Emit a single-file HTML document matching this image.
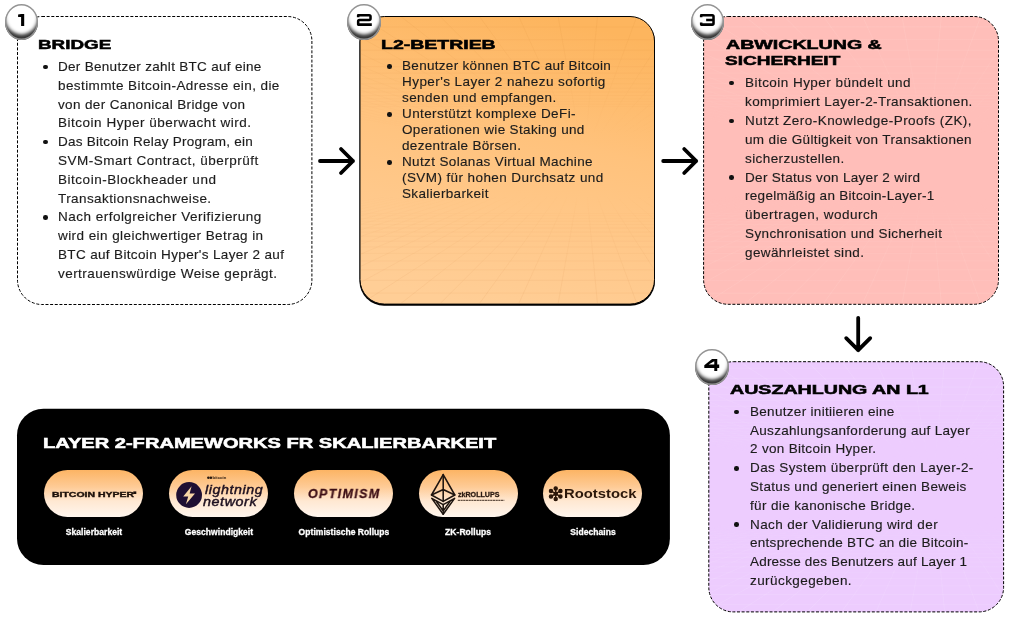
<!DOCTYPE html>
<html><head><meta charset="utf-8"><title>Bitcoin Hyper Layer 2</title>
<style>
html,body{margin:0;padding:0;background:#fff;}
body{width:1024px;height:619px;position:relative;overflow:hidden;font-family:"Liberation Sans",sans-serif;}
.abs{position:absolute;}
.t{will-change:transform;position:absolute;white-space:nowrap;font-size:13.5px;line-height:20px;height:20px;color:#1c1c1c;-webkit-text-stroke:0.15px #1c1c1c;}
.bl{position:absolute;width:4.6px;height:4.6px;border-radius:50%;background:#111;display:block;}
.h{will-change:transform;-webkit-text-stroke-width:0.55px;position:absolute;white-space:nowrap;font-weight:bold;line-height:20px;height:20px;color:#000;transform-origin:0 50%;}
.badge{position:absolute;width:33.2px;height:35.8px;border-radius:50%;background:#fff;box-sizing:border-box;
 box-shadow:inset 0 0 0.6px 1.4px #949494, inset 0 -5.6px 3.6px 0 rgba(0,0,0,.8);}
svg{position:absolute;left:0;top:0;overflow:visible;}
.pill{position:absolute;width:99px;height:47.4px;border-radius:24px;top:470.1px;background:linear-gradient(to bottom,#fcb464 0%,#fecb96 36%,#ffe8d2 66%,#fff6ee 100%);overflow:hidden;}
.lg{will-change:transform;position:absolute;white-space:nowrap;line-height:20px;height:20px;transform-origin:0 50%;}
.lab{will-change:transform;-webkit-text-stroke:0.3px #fff;position:absolute;top:526px;width:140px;text-align:center;font-size:8.5px;letter-spacing:0.05px;line-height:12px;font-weight:bold;color:#fff;white-space:nowrap;}
</style></head><body>

<svg width="1024" height="619" viewBox="0 0 1024 619">
<defs>
<linearGradient id="gO" x1="0.62" y1="0" x2="0.38" y2="1"><stop offset="0" stop-color="#fdb55e"/><stop offset="0.4" stop-color="#ffc27c"/><stop offset="0.75" stop-color="#ffc98c"/><stop offset="1" stop-color="#ffce96"/></linearGradient>
<linearGradient id="fade" x1="0" y1="0" x2="0" y2="1"><stop offset="0" stop-color="#fff" stop-opacity="1"/><stop offset="0.3" stop-color="#fff" stop-opacity="0.35"/><stop offset="0.42" stop-color="#fff" stop-opacity="0"/><stop offset="0.62" stop-color="#fff" stop-opacity="0"/><stop offset="0.75" stop-color="#fff" stop-opacity="0.5"/><stop offset="1" stop-color="#fff" stop-opacity="1"/></linearGradient>
<clipPath id="c2"><rect x="361" y="17" width="293" height="286" rx="24"/></clipPath><mask id="m2" maskUnits="userSpaceOnUse" x="361" y="17" width="293" height="286"><rect x="361" y="17" width="293" height="286" fill="url(#fade)"/></mask><clipPath id="c3"><rect x="704.5" y="17" width="293.5" height="286" rx="24"/></clipPath><mask id="m3" maskUnits="userSpaceOnUse" x="704.5" y="17" width="293.5" height="286"><rect x="704.5" y="17" width="293.5" height="286" fill="url(#fade)"/></mask><clipPath id="c4"><rect x="709.5" y="362" width="293.5" height="249" rx="24"/></clipPath><mask id="m4" maskUnits="userSpaceOnUse" x="709.5" y="362" width="293.5" height="249"><rect x="709.5" y="362" width="293.5" height="249" fill="url(#fade)"/></mask>
</defs>
<rect x="359.5" y="17.6" width="295.5" height="288.1" rx="24.5" fill="#000"/>
<rect x="360" y="16.5" width="294.5" height="287.6" rx="24.5" fill="url(#gO)"/>
<rect x="703.6" y="16.5" width="294.9" height="287.8" rx="24.5" fill="#ffbeb9"/>
<rect x="708.8" y="361.7" width="294.8" height="250.2" rx="24.5" fill="#edccfe"/>
<g clip-path="url(#c2)"><g mask="url(#m2)" fill="none" stroke-width="0.8"><path d="M361.0 26.9H654.0M361.0 39.7H654.0M361.0 50.2H654.0M361.0 59.1H654.0M361.0 66.6H654.0M361.0 73.1H654.0M361.0 78.8H654.0M361.0 83.7H654.0M361.0 88.1H654.0M361.0 92.0H654.0M361.0 95.5H654.0M361.0 98.7H654.0M361.0 101.6H654.0M361.0 104.2H654.0M361.0 106.6H654.0M583.7 160.0L-1725.9 -269.0M583.7 160.0L-1608.3 -269.0M583.7 160.0L-1490.8 -269.0M583.7 160.0L-1373.3 -269.0M583.7 160.0L-1255.7 -269.0M583.7 160.0L-1138.2 -269.0M583.7 160.0L-1020.7 -269.0M583.7 160.0L-903.1 -269.0M583.7 160.0L-785.6 -269.0M583.7 160.0L-668.1 -269.0M583.7 160.0L-550.5 -269.0M583.7 160.0L-433.0 -269.0M583.7 160.0L-315.5 -269.0M583.7 160.0L-197.9 -269.0M583.7 160.0L-80.4 -269.0M583.7 160.0L37.1 -269.0M583.7 160.0L154.7 -269.0M583.7 160.0L272.2 -269.0M583.7 160.0L389.7 -269.0M583.7 160.0L507.3 -269.0M583.7 160.0L624.8 -269.0M583.7 160.0L742.4 -269.0M583.7 160.0L859.9 -269.0M583.7 160.0L977.4 -269.0M583.7 160.0L1095.0 -269.0M583.7 160.0L1212.5 -269.0M583.7 160.0L1330.0 -269.0M583.7 160.0L1447.6 -269.0M583.7 160.0L1565.1 -269.0M583.7 160.0L1682.6 -269.0" stroke="rgba(170,90,10,.07)"/><path d="M361.0 293.1H654.0M361.0 280.3H654.0M361.0 269.8H654.0M361.0 260.9H654.0M361.0 253.4H654.0M361.0 246.9H654.0M361.0 241.2H654.0M361.0 236.3H654.0M361.0 231.9H654.0M361.0 228.0H654.0M361.0 224.5H654.0M361.0 221.3H654.0M361.0 218.4H654.0M361.0 215.8H654.0M361.0 213.4H654.0M583.7 160.0L-1725.9 589.0M583.7 160.0L-1608.3 589.0M583.7 160.0L-1490.8 589.0M583.7 160.0L-1373.3 589.0M583.7 160.0L-1255.7 589.0M583.7 160.0L-1138.2 589.0M583.7 160.0L-1020.7 589.0M583.7 160.0L-903.1 589.0M583.7 160.0L-785.6 589.0M583.7 160.0L-668.1 589.0M583.7 160.0L-550.5 589.0M583.7 160.0L-433.0 589.0M583.7 160.0L-315.5 589.0M583.7 160.0L-197.9 589.0M583.7 160.0L-80.4 589.0M583.7 160.0L37.1 589.0M583.7 160.0L154.7 589.0M583.7 160.0L272.2 589.0M583.7 160.0L389.7 589.0M583.7 160.0L507.3 589.0M583.7 160.0L624.8 589.0M583.7 160.0L742.4 589.0M583.7 160.0L859.9 589.0M583.7 160.0L977.4 589.0M583.7 160.0L1095.0 589.0M583.7 160.0L1212.5 589.0M583.7 160.0L1330.0 589.0M583.7 160.0L1447.6 589.0M583.7 160.0L1565.1 589.0M583.7 160.0L1682.6 589.0" stroke="rgba(185,105,25,.09)"/></g></g><g clip-path="url(#c3)"><g mask="url(#m3)" fill="none" stroke-width="0.8"><path d="M704.5 26.9H998.0M704.5 39.7H998.0M704.5 50.2H998.0M704.5 59.1H998.0M704.5 66.6H998.0M704.5 73.1H998.0M704.5 78.8H998.0M704.5 83.7H998.0M704.5 88.1H998.0M704.5 92.0H998.0M704.5 95.5H998.0M704.5 98.7H998.0M704.5 101.6H998.0M704.5 104.2H998.0M704.5 106.6H998.0M927.6 160.0L-1382.0 -269.0M927.6 160.0L-1264.5 -269.0M927.6 160.0L-1146.9 -269.0M927.6 160.0L-1029.4 -269.0M927.6 160.0L-911.9 -269.0M927.6 160.0L-794.3 -269.0M927.6 160.0L-676.8 -269.0M927.6 160.0L-559.2 -269.0M927.6 160.0L-441.7 -269.0M927.6 160.0L-324.2 -269.0M927.6 160.0L-206.6 -269.0M927.6 160.0L-89.1 -269.0M927.6 160.0L28.4 -269.0M927.6 160.0L146.0 -269.0M927.6 160.0L263.5 -269.0M927.6 160.0L381.0 -269.0M927.6 160.0L498.6 -269.0M927.6 160.0L616.1 -269.0M927.6 160.0L733.6 -269.0M927.6 160.0L851.2 -269.0M927.6 160.0L968.7 -269.0M927.6 160.0L1086.2 -269.0M927.6 160.0L1203.8 -269.0M927.6 160.0L1321.3 -269.0M927.6 160.0L1438.8 -269.0M927.6 160.0L1556.4 -269.0M927.6 160.0L1673.9 -269.0M927.6 160.0L1791.4 -269.0M927.6 160.0L1909.0 -269.0M927.6 160.0L2026.5 -269.0" stroke="rgba(255,228,224,.2)"/><path d="M704.5 293.1H998.0M704.5 280.3H998.0M704.5 269.8H998.0M704.5 260.9H998.0M704.5 253.4H998.0M704.5 246.9H998.0M704.5 241.2H998.0M704.5 236.3H998.0M704.5 231.9H998.0M704.5 228.0H998.0M704.5 224.5H998.0M704.5 221.3H998.0M704.5 218.4H998.0M704.5 215.8H998.0M704.5 213.4H998.0M927.6 160.0L-1382.0 589.0M927.6 160.0L-1264.5 589.0M927.6 160.0L-1146.9 589.0M927.6 160.0L-1029.4 589.0M927.6 160.0L-911.9 589.0M927.6 160.0L-794.3 589.0M927.6 160.0L-676.8 589.0M927.6 160.0L-559.2 589.0M927.6 160.0L-441.7 589.0M927.6 160.0L-324.2 589.0M927.6 160.0L-206.6 589.0M927.6 160.0L-89.1 589.0M927.6 160.0L28.4 589.0M927.6 160.0L146.0 589.0M927.6 160.0L263.5 589.0M927.6 160.0L381.0 589.0M927.6 160.0L498.6 589.0M927.6 160.0L616.1 589.0M927.6 160.0L733.6 589.0M927.6 160.0L851.2 589.0M927.6 160.0L968.7 589.0M927.6 160.0L1086.2 589.0M927.6 160.0L1203.8 589.0M927.6 160.0L1321.3 589.0M927.6 160.0L1438.8 589.0M927.6 160.0L1556.4 589.0M927.6 160.0L1673.9 589.0M927.6 160.0L1791.4 589.0M927.6 160.0L1909.0 589.0M927.6 160.0L2026.5 589.0" stroke="rgba(255,228,224,.2)"/></g></g><g clip-path="url(#c4)"><g mask="url(#m4)" fill="none" stroke-width="0.8"><path d="M709.5 368.3H1003.0M709.5 378.5H1003.0M709.5 387.1H1003.0M709.5 394.4H1003.0M709.5 400.8H1003.0M709.5 406.3H1003.0M709.5 411.1H1003.0M709.5 415.4H1003.0M709.5 419.2H1003.0M709.5 422.7H1003.0M709.5 425.8H1003.0M709.5 428.6H1003.0M709.5 431.1H1003.0M709.5 433.5H1003.0M709.5 435.6H1003.0M709.5 437.6H1003.0M709.5 439.5H1003.0M709.5 441.2H1003.0M932.6 486.5L-1078.2 113.0M932.6 486.5L-975.9 113.0M932.6 486.5L-873.5 113.0M932.6 486.5L-771.2 113.0M932.6 486.5L-668.9 113.0M932.6 486.5L-566.6 113.0M932.6 486.5L-464.2 113.0M932.6 486.5L-361.9 113.0M932.6 486.5L-259.6 113.0M932.6 486.5L-157.2 113.0M932.6 486.5L-54.9 113.0M932.6 486.5L47.4 113.0M932.6 486.5L149.7 113.0M932.6 486.5L252.1 113.0M932.6 486.5L354.4 113.0M932.6 486.5L456.7 113.0M932.6 486.5L559.1 113.0M932.6 486.5L661.4 113.0M932.6 486.5L763.7 113.0M932.6 486.5L866.0 113.0M932.6 486.5L968.4 113.0M932.6 486.5L1070.7 113.0M932.6 486.5L1173.0 113.0M932.6 486.5L1275.4 113.0M932.6 486.5L1377.7 113.0M932.6 486.5L1480.0 113.0M932.6 486.5L1582.3 113.0M932.6 486.5L1684.7 113.0M932.6 486.5L1787.0 113.0M932.6 486.5L1889.3 113.0" stroke="rgba(250,238,255,.22)"/><path d="M709.5 604.7H1003.0M709.5 594.5H1003.0M709.5 585.9H1003.0M709.5 578.6H1003.0M709.5 572.2H1003.0M709.5 566.7H1003.0M709.5 561.9H1003.0M709.5 557.6H1003.0M709.5 553.8H1003.0M709.5 550.3H1003.0M709.5 547.2H1003.0M709.5 544.4H1003.0M709.5 541.9H1003.0M709.5 539.5H1003.0M709.5 537.4H1003.0M709.5 535.4H1003.0M709.5 533.5H1003.0M709.5 531.8H1003.0M932.6 486.5L-1078.2 860.0M932.6 486.5L-975.9 860.0M932.6 486.5L-873.5 860.0M932.6 486.5L-771.2 860.0M932.6 486.5L-668.9 860.0M932.6 486.5L-566.6 860.0M932.6 486.5L-464.2 860.0M932.6 486.5L-361.9 860.0M932.6 486.5L-259.6 860.0M932.6 486.5L-157.2 860.0M932.6 486.5L-54.9 860.0M932.6 486.5L47.4 860.0M932.6 486.5L149.7 860.0M932.6 486.5L252.1 860.0M932.6 486.5L354.4 860.0M932.6 486.5L456.7 860.0M932.6 486.5L559.1 860.0M932.6 486.5L661.4 860.0M932.6 486.5L763.7 860.0M932.6 486.5L866.0 860.0M932.6 486.5L968.4 860.0M932.6 486.5L1070.7 860.0M932.6 486.5L1173.0 860.0M932.6 486.5L1275.4 860.0M932.6 486.5L1377.7 860.0M932.6 486.5L1480.0 860.0M932.6 486.5L1582.3 860.0M932.6 486.5L1684.7 860.0M932.6 486.5L1787.0 860.0M932.6 486.5L1889.3 860.0" stroke="rgba(250,238,255,.22)"/></g></g>
<g fill="none" stroke="#000" stroke-width="1">
<rect x="17.5" y="16.5" width="294.4" height="288" rx="24.5" stroke-dasharray="3 1.65"/>
<rect x="360" y="16.5" width="294.5" height="287.6" rx="24.5"/>
<rect x="703.6" y="16.5" width="294.9" height="287.8" rx="24.5" stroke-dasharray="3 1.65"/>
<rect x="708.8" y="361.7" width="294.8" height="250.2" rx="24.5" stroke-dasharray="3 1.65"/>
</g>
<rect x="17" y="408.7" width="652.9" height="156.3" rx="26.5" fill="#000"/>
<g fill="none" stroke="#000" stroke-width="3.8" stroke-linecap="round" stroke-linejoin="round">
<path d="M320 161H353M341 149L353 161L341 173"/>
<path d="M663.2 161H696.2M684.2 149L696.2 161L684.2 173"/>
<path d="M858.2 317.8V350.2M846.2 338.2L858.2 350.2L870.2 338.2"/>
</g>
</svg>

<div class="badge" style="left:4.8px;top:3.9px"></div>
<div class="badge" style="left:347.4px;top:3.9px"></div>
<div class="badge" style="left:691.1px;top:3.9px"></div>
<div class="badge" style="left:695.4px;top:348.9px"></div>
<svg width="1024" height="619" viewBox="0 0 1024 619"><path d="M18.10 14.50L21.20 13.90H24.20V25.90H21.10V17.00H18.10Z" fill="#000"/><path d="M358.17 17.18V15.18H369.22Q370.52 15.18 370.52 16.48V18.60Q370.52 19.90 369.22 19.90H359.47Q358.17 19.90 358.17 21.20V24.62H371.80" fill="none" stroke="#000" stroke-width="2.55" stroke-linejoin="round" stroke-linecap="butt"/><path d="M701.17 17.18V15.18H712.23Q713.52 15.18 713.52 16.48V23.32Q713.52 24.62 712.23 24.62H701.17V22.62M706.16 19.90H713.52" fill="none" stroke="#000" stroke-width="2.55" stroke-linejoin="round" stroke-linecap="butt"/><path fill-rule="evenodd" d="M712.05 358.90H717.26V364.42H719.20V368.02H717.26V370.90H714.28V368.02H704.30V365.14ZM714.28 361.18V364.42H708.62Z" fill="#000"/></svg>
<div class="h " style="left:37.6px;top:34.52px;font-size:13.5px;transform:scaleX(1.3938)">BRIDGE</div>
<div class="h " style="left:380.5px;top:34.52px;font-size:13.5px;transform:scaleX(1.4424)">L2-BETRIEB</div>
<div class="h " style="left:725.5px;top:34.62px;font-size:13.5px;transform:scaleX(1.4527)">ABWICKLUNG &amp;</div>
<div class="h " style="left:724.7px;top:50.52px;font-size:13.5px;transform:scaleX(1.4101)">SICHERHEIT</div>
<div class="h " style="left:730.3px;top:379.92px;font-size:13.5px;transform:scaleX(1.4537)">AUSZAHLUNG AN L1</div>
<div class="h w" style="left:43.0px;top:433.00px;font-size:15.0px;transform:scaleX(1.3383)">LAYER 2-FRAMEWORKS FR SKALIERBARKEIT</div>
<div class="t" style="left:58.2px;top:56.99px;letter-spacing:0.300px">Der Benutzer zahlt BTC auf eine</div>
<i class="bl" style="left:43.4px;top:64.67px"></i>
<div class="t" style="left:58.2px;top:75.79px;letter-spacing:0.409px">bestimmte Bitcoin-Adresse ein, die</div>
<div class="t" style="left:58.2px;top:94.59px;letter-spacing:0.370px">von der Canonical Bridge von</div>
<div class="t" style="left:58.2px;top:113.39px;letter-spacing:0.514px">Bitcoin Hyper überwacht wird.</div>
<div class="t" style="left:58.2px;top:132.19px;letter-spacing:0.248px">Das Bitcoin Relay Program, ein</div>
<i class="bl" style="left:43.4px;top:139.87px"></i>
<div class="t" style="left:58.2px;top:150.99px;letter-spacing:0.507px">SVM-Smart Contract, überprüft</div>
<div class="t" style="left:58.2px;top:169.79px;letter-spacing:0.527px">Bitcoin-Blockheader und</div>
<div class="t" style="left:58.2px;top:188.59px;letter-spacing:0.419px">Transaktionsnachweise.</div>
<div class="t" style="left:58.2px;top:207.39px;letter-spacing:0.484px">Nach erfolgreicher Verifizierung</div>
<i class="bl" style="left:43.4px;top:215.07px"></i>
<div class="t" style="left:58.2px;top:226.19px;letter-spacing:0.431px">wird ein gleichwertiger Betrag in</div>
<div class="t" style="left:58.2px;top:244.99px;letter-spacing:0.347px">BTC auf Bitcoin Hyper's Layer 2 auf</div>
<div class="t" style="left:58.2px;top:263.79px;letter-spacing:0.439px">vertrauenswürdige Weise geprägt.</div>
<div class="t" style="left:401.9px;top:56.32px;letter-spacing:0.307px">Benutzer können BTC auf Bitcoin</div>
<i class="bl" style="left:387.0px;top:64.00px"></i>
<div class="t" style="left:401.9px;top:72.32px;letter-spacing:0.440px">Hyper's Layer 2 nahezu sofortig</div>
<div class="t" style="left:401.9px;top:88.32px;letter-spacing:0.430px">senden und empfangen.</div>
<div class="t" style="left:401.9px;top:104.32px;letter-spacing:0.400px">Unterstützt komplexe DeFi-</div>
<i class="bl" style="left:387.0px;top:112.00px"></i>
<div class="t" style="left:401.9px;top:120.32px;letter-spacing:0.346px">Operationen wie Staking und</div>
<div class="t" style="left:401.9px;top:136.32px;letter-spacing:0.329px">dezentrale Börsen.</div>
<div class="t" style="left:401.9px;top:152.32px;letter-spacing:0.357px">Nutzt Solanas Virtual Machine</div>
<i class="bl" style="left:387.0px;top:160.00px"></i>
<div class="t" style="left:401.9px;top:168.32px;letter-spacing:0.407px">(SVM) für hohen Durchsatz und</div>
<div class="t" style="left:401.9px;top:184.32px;letter-spacing:0.354px">Skalierbarkeit</div>
<div class="t" style="left:745.1px;top:73.07px;letter-spacing:0.458px">Bitcoin Hyper bündelt und</div>
<i class="bl" style="left:729.4px;top:80.75px"></i>
<div class="t" style="left:745.1px;top:91.97px;letter-spacing:0.424px">komprimiert Layer-2-Transaktionen.</div>
<div class="t" style="left:745.1px;top:110.87px;letter-spacing:0.469px">Nutzt Zero-Knowledge-Proofs (ZK),</div>
<i class="bl" style="left:729.4px;top:118.55px"></i>
<div class="t" style="left:745.1px;top:129.77px;letter-spacing:0.353px">um die Gültigkeit von Transaktionen</div>
<div class="t" style="left:745.1px;top:148.67px;letter-spacing:0.413px">sicherzustellen.</div>
<div class="t" style="left:745.1px;top:167.57px;letter-spacing:0.323px">Der Status von Layer 2 wird</div>
<i class="bl" style="left:729.4px;top:175.25px"></i>
<div class="t" style="left:745.1px;top:186.47px;letter-spacing:0.300px">regelmäßig an Bitcoin-Layer-1</div>
<div class="t" style="left:745.1px;top:205.37px;letter-spacing:0.500px">übertragen, wodurch</div>
<div class="t" style="left:745.1px;top:224.27px;letter-spacing:0.372px">Synchronisation und Sicherheit</div>
<div class="t" style="left:745.1px;top:243.17px;letter-spacing:0.400px">gewährleistet sind.</div>
<div class="t" style="left:750.0px;top:401.92px;letter-spacing:0.304px">Benutzer initiieren eine</div>
<i class="bl" style="left:734.3px;top:409.60px"></i>
<div class="t" style="left:750.0px;top:420.69px;letter-spacing:0.306px">Auszahlungsanforderung auf Layer</div>
<div class="t" style="left:750.0px;top:439.46px;letter-spacing:0.316px">2 von Bitcoin Hyper.</div>
<div class="t" style="left:750.0px;top:458.23px;letter-spacing:0.391px">Das System überprüft den Layer-2-</div>
<i class="bl" style="left:734.3px;top:465.91px"></i>
<div class="t" style="left:750.0px;top:477.00px;letter-spacing:0.331px">Status und generiert einen Beweis</div>
<div class="t" style="left:750.0px;top:495.77px;letter-spacing:0.360px">für die kanonische Bridge.</div>
<div class="t" style="left:750.0px;top:514.54px;letter-spacing:0.386px">Nach der Validierung wird der</div>
<i class="bl" style="left:734.3px;top:522.22px"></i>
<div class="t" style="left:750.0px;top:533.31px;letter-spacing:0.281px">entsprechende BTC an die Bitcoin-</div>
<div class="t" style="left:750.0px;top:552.08px;letter-spacing:0.194px">Adresse des Benutzers auf Layer 1</div>
<div class="t" style="left:750.0px;top:570.85px;letter-spacing:0.423px">zurückgegeben.</div>
<div class="pill" style="left:44.4px"></div>
<div class="lab" style="left:23.9px">Skalierbarkeit</div>
<div class="pill" style="left:169.2px"></div>
<div class="lab" style="left:148.7px">Geschwindigkeit</div>
<div class="pill" style="left:294.1px"></div>
<div class="lab" style="left:273.6px">Optimistische Rollups</div>
<div class="pill" style="left:418.6px"></div>
<div class="lab" style="left:398.1px">ZK-Rollups</div>
<div class="pill" style="left:543.4px"></div>
<div class="lab" style="left:522.9px">Sidechains</div>
<div class="lg" style="left:51.80px;top:484.84px;font-size:6.8px;transform:scaleX(1.5391);font-weight:bold;color:#1c100a;-webkit-text-stroke:0.35px #1c100a;">BITCOIN HYPER</div>
<div class="lg" style="left:204.60px;top:479.59px;font-size:13.6px;transform:scaleX(1.0464);font-style:italic;letter-spacing:0.55px;color:#1d1020;-webkit-text-stroke:0.45px #1d1020;">lightning</div>
<div class="lg" style="left:202.70px;top:491.89px;font-size:13.6px;transform:scaleX(1.0528);font-style:italic;letter-spacing:0.55px;color:#1d1020;-webkit-text-stroke:0.45px #1d1020;">network</div>
<div class="lg" style="left:307.90px;top:483.76px;font-size:12.8px;transform:scaleX(0.9728);font-weight:bold;font-style:italic;letter-spacing:1.4px;color:#3b0d14;-webkit-text-stroke:0.3px #3b0d14;">OPTIMISM</div>
<div class="lg" style="left:457.80px;top:484.54px;font-size:6.8px;transform:scaleX(1.0434);font-weight:bold;color:#2a1a12;-webkit-text-stroke:0.3px #2a1a12;">zkROLLUPS</div>
<div class="lg" style="left:564.00px;top:483.52px;font-size:13.5px;transform:scaleX(1.0982);font-weight:bold;color:#2b170a;">Rootstock</div>
<svg width="1024" height="619" viewBox="0 0 1024 619">
<!-- BITCOIN HYPER superscript mark -->
<rect x="133.3" y="491.4" width="3" height="2.6" fill="#1c100a"/>
<!-- lightning circle + bolt -->
<circle cx="189.1" cy="495" r="12.9" fill="#1e0f33"/>
<path d="M191.6 486.2L183.2 496.4H188.2L185.9 504.2L195.0 493.4H189.6Z" fill="#f7d6a6"/>
<circle cx="208.4" cy="477.8" r="1.3" fill="#2a1a10"/><circle cx="210.9" cy="477.8" r="1.3" fill="#2a1a10"/><text x="212.6" y="479.2" font-family="Liberation Sans, sans-serif" font-size="4.2" font-weight="bold" fill="#2a1a10">bitcoin</text>
<!-- zk rollups ethereum wireframe -->
<g fill="none" stroke="#1e1510" stroke-width="1.55" stroke-linejoin="round" stroke-linecap="round">
<path d="M443.2 474.6L431.5 495L443.2 501.4L454.8 495Z"/>
<path d="M443.2 474.6V501.4M431.5 495L443.2 489.5L454.8 495"/>
<path d="M431.8 498.4L443.2 514.2L454.6 498.4L443.2 504.6Z"/>
<path d="M443.2 504.6V514.2M436.5 501.5L443.2 511M449.9 501.5L443.2 511"/>
</g>
<path d="M457.8 500.4H504.3" stroke="#4a382c" stroke-width="1.2" stroke-dasharray="2.2 0.5" opacity=".85"/>
<!-- rootstock flower -->
<g fill="#2b170a" stroke="#2b170a" stroke-width="1.4">
<path d="M555.7 493.6V488.6M555.7 493.6L551.2 491M555.7 493.6L560.2 491M555.7 493.6L551.2 496.6M555.7 493.6L560.2 496.6M555.7 493.6V498.9" fill="none"/>
<circle cx="555.7" cy="488.4" r="1.55"/><circle cx="551.0" cy="490.9" r="1.55"/><circle cx="560.4" cy="490.9" r="1.55"/>
<circle cx="555.7" cy="493.7" r="1.6"/><circle cx="551.0" cy="496.6" r="1.55"/><circle cx="560.4" cy="496.6" r="1.55"/><circle cx="555.7" cy="499.1" r="1.55"/>
</g>
</svg>
<style>.w{color:#fff}</style>
</body></html>
